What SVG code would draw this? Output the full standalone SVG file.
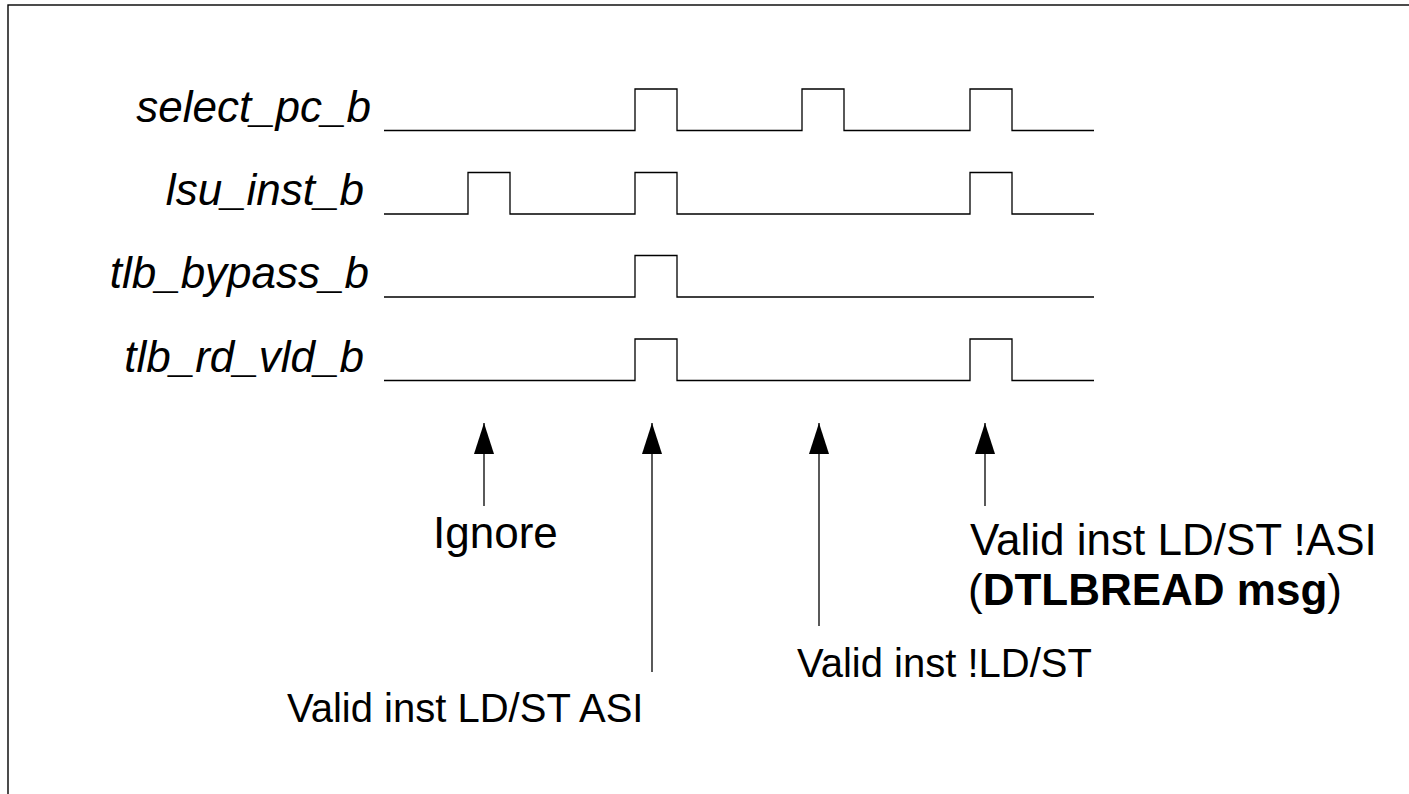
<svg xmlns="http://www.w3.org/2000/svg" width="1409" height="794" viewBox="0 0 1409 794">
  <style>
    .frame { fill: none; stroke: #000; stroke-width: 1.4; }
    .wave { fill: none; stroke: #000; stroke-width: 1.3; }
    .sig { font-family: "Liberation Sans", Arial, sans-serif; font-style: italic; font-size: 44px; fill: #000; text-anchor: end; }
    .note { font-family: "Liberation Sans", Arial, sans-serif; font-size: 40px; fill: #000; }
    .big { font-size: 44px; }
    .shaft { stroke: #000; stroke-width: 1.3; fill: none; }
    .b { font-weight: bold; }
  </style>
  <defs>
    <!-- filled triangular head; tip sits on the end of the line -->
    <marker id="head" markerUnits="userSpaceOnUse" markerWidth="31" markerHeight="21" viewBox="0 0 31 21" refX="31" refY="10.5" orient="auto">
      <path d="M0 0.5 L31 10.5 L0 20.5 Z" fill="#000"/>
    </marker>
  </defs>

  <rect class="frame" x="8" y="5" width="1600" height="1000"/>

  <!-- signal names and waveforms -->
  <g id="select_pc_b">
    <text class="sig" x="371" y="122">select_pc_b</text>
    <path class="wave" d="M384 130.5 H635 V89 H677 V130.5 H802 V89 H844 V130.5 H970 V89 H1012 V130.5 H1094"/>
  </g>
  <g id="lsu_inst_b">
    <text class="sig" x="364" y="205">lsu_inst_b</text>
    <path class="wave" d="M384 214 H468 V172.5 H510 V214 H635 V172.5 H677 V214 H970 V172.5 H1012 V214 H1094"/>
  </g>
  <g id="tlb_bypass_b">
    <text class="sig" x="369" y="288">tlb_bypass_b</text>
    <path class="wave" d="M384 297 H635 V255.5 H677 V297 H1094"/>
  </g>
  <g id="tlb_rd_vld_b">
    <text class="sig" x="364" y="372">tlb_rd_vld_b</text>
    <path class="wave" d="M384 380.5 H635 V339 H677 V380.5 H970 V339 H1012 V380.5 H1094"/>
  </g>

  <!-- event pointers -->
  <g id="connectors">
    <line class="shaft" x1="484" y1="506" x2="484" y2="423" marker-end="url(#head)"/>
    <line class="shaft" x1="652" y1="672" x2="652" y2="423" marker-end="url(#head)"/>
    <line class="shaft" x1="819" y1="626" x2="819" y2="423" marker-end="url(#head)"/>
    <line class="shaft" x1="985" y1="506" x2="985" y2="423" marker-end="url(#head)"/>
  </g>

  <!-- event descriptions -->
  <g id="ignore">
    <text class="note big" x="433" y="548">Ignore</text>
  </g>
  <g id="ldst_asi">
    <text class="note" x="287" y="722">Valid inst LD/ST ASI</text>
  </g>
  <g id="not_ldst">
    <text class="note" x="797" y="677">Valid inst !LD/ST</text>
  </g>
  <g id="ldst_not_asi">
    <text class="note big" x="970" y="555">Valid inst LD/ST !ASI</text>
    <text class="note big" x="968" y="605">(<tspan class="b">DTLBREAD msg</tspan>)</text>
  </g>
</svg>
